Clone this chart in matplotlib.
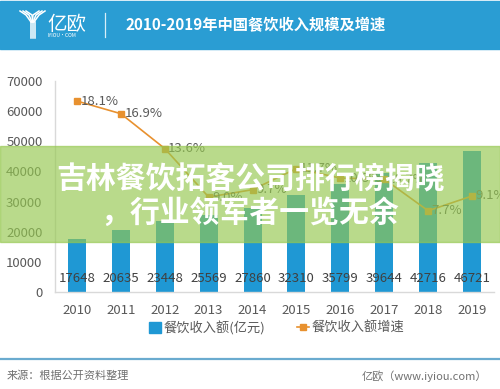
import matplotlib
matplotlib.use("Agg")
import matplotlib.pyplot as plt
from matplotlib.patches import Rectangle
from matplotlib.lines import Line2D
import numpy as np

plt.rcParams['font.family'] = ['Noto Sans CJK SC', 'DejaVu Sans']

years = ['2010', '2011', '2012', '2013', '2014', '2015', '2016', '2017', '2018', '2019']
revenue = [17648, 20635, 23448, 25569, 27860, 32310, 35799, 39644, 42716, 46721]
growth = [18.1, 16.9, 13.6, 9.0, 9.7, 11.7, 10.8, 10.7, 7.7, 9.1]
y_ticks = [0, 10000, 20000, 30000, 40000, 50000, 60000, 70000]

title = '2010-2019年中国餐饮收入规模及增速'
bar_name = '餐饮收入额(亿元)'
line_name = '餐饮收入额增速'
source = '来源：根据公开资料整理'
credit = '亿欧（www.iyiou.com）'
overlay1 = '吉林餐饮拓客公司排行榜揭晓'
overlay2 = '，行业领军者一览无余'

W, H = 500, 389
fig = plt.figure(figsize=(W / 100, H / 100), dpi=100)

def fx(px):
    return px / W

def fy(py):
    return 1 - py / H

BLUE = '#1f98d4'
ORANGE = '#e8912f'
GRAY = '#595959'

# header band
fig.patches.append(Rectangle((0, fy(49)), 1, fy(1) - fy(49), transform=fig.transFigure,
                             color='#2a9dd3', zorder=0))
# logo (stylized Y)
for dx in [0, 3, 6]:
    fig.lines.append(Line2D([fx(20 + dx), fx(26 + dx), fx(31 + dx * 0.3)],
                            [fy(11), fy(15), fy(22)], transform=fig.transFigure,
                            color='white', lw=1.1))
    fig.lines.append(Line2D([fx(45 - dx), fx(39 - dx), fx(34 - dx * 0.3)],
                            [fy(11), fy(15), fy(22)], transform=fig.transFigure,
                            color='white', lw=1.1))
for dx in [-2, 0, 2]:
    fig.lines.append(Line2D([fx(32.5 + dx), fx(32.5 + dx)], [fy(22), fy(38)],
                            transform=fig.transFigure, color='white', lw=1.1))
fig.text(fx(47), fy(24), '亿欧', color='white', fontsize=14, va='center', ha='left',
         fontweight='light')
fig.text(fx(47), fy(35.5), 'IYIOU·COM', color='white', fontsize=3.6, va='center', ha='left')
fig.lines.append(Line2D([fx(105), fx(105)], [fy(13), fy(37)], transform=fig.transFigure,
                        color='#d8eef8', lw=0.9))
fig.text(fx(125), fy(25), title, color='white', fontsize=11, fontweight='bold',
         va='center', ha='left')

# main axes
ax = fig.add_axes([fx(55), fy(292), fx(494) - fx(55), fy(81) - fy(292)])
x = np.arange(len(years))
ax.bar(x, revenue, width=0.41, color=BLUE, zorder=2)
ax.set_xlim(-0.5, len(years) - 0.5)
ax.set_ylim(0, 70000)
ax.set_yticks(y_ticks)
ax.set_yticklabels([str(v) for v in y_ticks])
ax.set_xticks(x)
ax.set_xticklabels(years)
ax.tick_params(axis='both', length=0, labelsize=9.5, labelcolor=GRAY)
ax.tick_params(axis='y', pad=9)
ax.tick_params(axis='x', pad=9)
for s in ['top', 'right']:
    ax.spines[s].set_visible(False)
for s in ['left', 'bottom']:
    ax.spines[s].set_color('#d9d9d9')
    ax.spines[s].set_linewidth(1)
for i, v in enumerate(revenue):
    ax.annotate(str(v), xy=(i, 0), xytext=(0, 9.5), textcoords='offset points',
                ha='center', va='center', fontsize=9.5, color='#404040', zorder=4)

ax2 = ax.twinx()
ax2.set_ylim(0, 20)
ax2.axis('off')
ax2.plot(x, growth, color=ORANGE, lw=1.2, marker='s', markersize=4, zorder=3)
for i, g in enumerate(growth):
    ax2.annotate(f'{g:.1f}%', xy=(i, g), xytext=(2.5, 0), textcoords='offset points',
                 ha='left', va='center', fontsize=9.5, color=GRAY)

# legend
handles = [Rectangle((0, 0), 1, 1, color=BLUE),
           Line2D([0], [0], color=ORANGE, lw=1.2, marker='s', markersize=4)]
fig.legend(handles, [bar_name, line_name], loc='center', bbox_to_anchor=(fx(277), fy(328)),
           ncol=2, frameon=False, fontsize=9.5, labelcolor=GRAY, handlelength=0.9,
           handleheight=0.9, handletextpad=0.2, columnspacing=2.4)

# footer
fig.lines.append(Line2D([0, 1], [fy(359), fy(359)], transform=fig.transFigure,
                        color='#6aabcf', lw=1.6))
fig.text(fx(7), fy(376), source, color='#707070', fontsize=8, va='center', ha='left')
fig.text(fx(487), fy(376), credit, color='#707070', fontsize=8, va='center', ha='right')

# overlay
fig.patches.append(Rectangle((0, fy(242)), 1, fy(146) - fy(242), transform=fig.transFigure,
                             color=(149 / 255, 200 / 255, 79 / 255), alpha=0.66, zorder=10))
fig.text(0.5, fy(180), overlay1, color='white', fontsize=21.5, fontweight='bold',
         ha='center', va='center', zorder=11)
fig.text(0.5, fy(213), overlay2, color='white', fontsize=21.5, fontweight='bold',
         ha='center', va='center', zorder=11)

fig.savefig('out.png', dpi=100)
